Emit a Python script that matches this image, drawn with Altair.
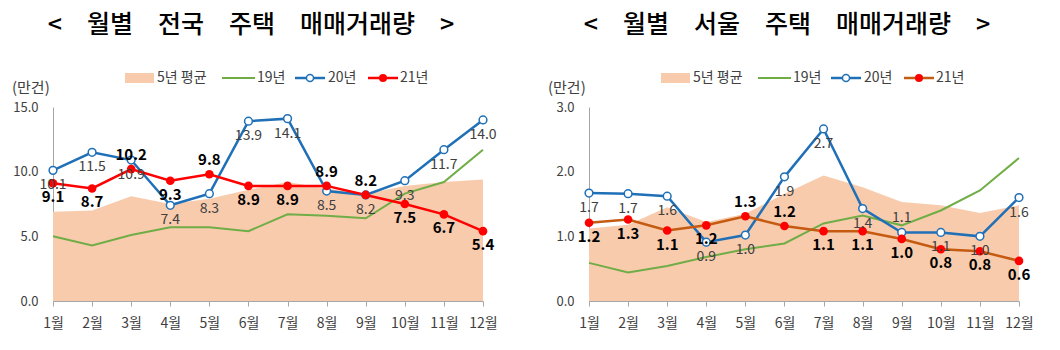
import altair as alt
import pandas as pd

FONT = "Noto Sans CJK KR"

months = ["1월", "2월", "3월", "4월", "5월", "6월", "7월", "8월", "9월", "10월", "11월", "12월"]
series_names = ["5년 평균", "19년", "20년", "21년"]
unit_label = "(만건)"
titles = ["<\u3000월별\u3000전국\u3000주택\u3000매매거래량\u3000>",
          "<\u3000월별\u3000서울\u3000주택\u3000매매거래량\u3000>"]

# 전국 (만건)
nat_avg5 = [6.9, 7.0, 8.1, 7.5, 7.9, 8.6, 9.2, 8.7, 8.3, 8.9, 9.2, 9.4]
nat_19 = [5.0, 4.3, 5.1, 5.7, 5.7, 5.4, 6.7, 6.6, 6.4, 8.3, 9.2, 11.7]
nat_20 = [10.1, 11.5, 10.9, 7.4, 8.3, 13.9, 14.1, 8.5, 8.2, 9.3, 11.7, 14.0]
nat_21 = [9.1, 8.7, 10.2, 9.3, 9.8, 8.9, 8.9, 8.9, 8.2, 7.5, 6.7, 5.4]
nat_20_side = ["below"] * 12
nat_21_side = ["below", "below", "above", "below", "above", "below",
               "below", "above", "above", "below", "below", "below"]
nat_ticks = [0, 5, 10, 15]

# 서울 (만건)
seoul_avg5 = [1.12, 1.18, 1.45, 1.22, 1.35, 1.66, 1.94, 1.76, 1.53, 1.48, 1.36, 1.48]
seoul_19 = [0.59, 0.44, 0.54, 0.68, 0.80, 0.89, 1.20, 1.32, 1.17, 1.40, 1.71, 2.21]
seoul_20 = [1.67, 1.66, 1.62, 0.91, 1.02, 1.92, 2.66, 1.43, 1.06, 1.06, 1.00, 1.60]
seoul_21 = [1.21, 1.26, 1.09, 1.17, 1.31, 1.16, 1.08, 1.08, 0.96, 0.80, 0.77, 0.62]
seoul_20_side = ["below", "below", "below", "below", "below", "below",
                 "below", "below", "above", "below", "below", "below"]
seoul_21_side = ["below", "below", "below", "below", "above", "above",
                 "below", "below", "below", "below", "below", "below"]
seoul_ticks = [0, 1, 2, 3]

AREA_C = "#F8CBAD"
GREEN = "#70AD47"
BLUE = "#2070B8"
RED = "#FF0000"
BROWN = "#C55A11"
AXIS_C = "#A6A6A6"
TXT = "#404040"

W, H = 430, 194


def one_row(**kw):
    return pd.DataFrame({k: [v] for k, v in kw.items()})


def panel(title, avg5, s19, s20, s21, side20, side21, ticks, line21, left_pad, right_fill):
    df = pd.DataFrame({"월": months, "avg5": avg5, "s19": s19, "s20": s20, "s21": s21,
                       "side20": side20, "side21": side21})
    base = alt.Chart(df)
    xaxis = alt.Axis(title=None, labelAngle=0, grid=False, domainColor=AXIS_C,
                     tickColor=AXIS_C, tickSize=5, labelFontSize=14,
                     labelFont=FONT, labelColor=TXT, labelPadding=10)
    xenc = alt.X("월:N", sort=months, scale=alt.Scale(type="point", padding=0), axis=xaxis)
    yscale = alt.Scale(domain=[ticks[0], ticks[-1]], nice=False)
    yaxis = alt.Axis(title=None, values=ticks, format=".1f", grid=False,
                     ticks=False, domainColor=AXIS_C, labelFontSize=13,
                     labelFont=FONT, labelColor=TXT, labelPadding=15)

    def yf(f):
        return alt.Y(f"{f}:Q", scale=yscale, axis=yaxis)

    area = base.mark_area(color=AREA_C, opacity=1).encode(x=xenc, y=yf("avg5"))
    l19 = base.mark_line(color=GREEN, strokeWidth=2).encode(x=xenc, y=yf("s19"))
    l20 = base.mark_line(color=BLUE, strokeWidth=2.5).encode(x=xenc, y=yf("s20"))
    l21 = base.mark_line(color=line21, strokeWidth=2.5).encode(x=xenc, y=yf("s21"))
    p20 = base.mark_point(shape="circle", filled=True, fill="white", stroke=BLUE,
                          strokeWidth=1.5, size=60, opacity=1).encode(x=xenc, y=yf("s20"))
    p21 = base.mark_circle(color=RED, size=75, opacity=1).encode(x=xenc, y=yf("s21"))

    def labels(field, side, dy, bold):
        return base.transform_filter(f"datum.{side[0]} == '{side[1]}'").mark_text(
            dy=dy, fontSize=15 if bold else 14, fontWeight="bold" if bold else "normal",
            color="#000000" if bold else TXT, font=FONT, baseline="middle"
        ).encode(x=xenc, y=yf(field), text=alt.Text(f"{field}:Q", format=".1f"))

    t20a = labels("s20", ("side20", "above"), -14, False)
    t20b = labels("s20", ("side20", "below"), 15, False)
    t21a = labels("s21", ("side21", "above"), -14, True)
    t21b = labels("s21", ("side21", "below"), 14, True)

    ly = -29
    leg = [
        alt.Chart(one_row(k=0)).mark_rect(color=AREA_C).encode(
            x=alt.value(72), x2=alt.value(101), y=alt.value(ly - 5), y2=alt.value(ly + 5)),
        alt.Chart(one_row(k=0)).mark_rule(color=GREEN, strokeWidth=2).encode(
            x=alt.value(169), x2=alt.value(202), y=alt.value(ly)),
        alt.Chart(one_row(k=0)).mark_rule(color=BLUE, strokeWidth=2.5).encode(
            x=alt.value(242), x2=alt.value(272), y=alt.value(ly)),
        alt.Chart(one_row(k=0)).mark_point(shape="circle", filled=True, fill="white",
                                           stroke=BLUE, strokeWidth=1.5, size=50, opacity=1).encode(
            x=alt.value(257), y=alt.value(ly)),
        alt.Chart(one_row(k=0)).mark_rule(color=line21, strokeWidth=2.5).encode(
            x=alt.value(315), x2=alt.value(345), y=alt.value(ly)),
        alt.Chart(one_row(k=0)).mark_circle(color=RED, size=65, opacity=1).encode(
            x=alt.value(330), y=alt.value(ly)),
    ]
    for name, xpos in zip(series_names, [104, 204, 275, 347]):
        leg.append(alt.Chart(one_row(name=name)).mark_text(
            align="left", baseline="middle", fontSize=14, font=FONT, color=TXT).encode(
            x=alt.value(xpos), y=alt.value(ly), text="name:N"))

    unit = alt.Chart(one_row(u=unit_label)).mark_text(
        align="left", baseline="middle", fontSize=15, font=FONT, color=TXT).encode(
        x=alt.value(-41), y=alt.value(-19), text="u:N")
    ttl = alt.Chart(one_row(t=title)).mark_text(
        align="center", baseline="middle", fontSize=25, fontWeight=500, font=FONT,
        color="#000000").encode(
        x=alt.value(198), y=alt.value(-82), text="t:N")

    frame = []
    if left_pad:
        frame.append(alt.Chart(one_row(k=0)).mark_rect(opacity=0).encode(
            x=alt.value(-53), x2=alt.value(0), y=alt.value(-107), y2=alt.value(0)))
    if right_fill:
        frame.append(alt.Chart(one_row(k=0)).mark_rect(opacity=0).encode(
            x=alt.value(W), x2=alt.value(471), y=alt.value(H), y2=alt.value(243)))

    return alt.layer(area, l19, l20, l21, p20, p21, t20a, t20b, t21a, t21b,
                     *leg, unit, ttl, *frame).properties(width=W, height=H)


left = panel(titles[0], nat_avg5, nat_19, nat_20, nat_21, nat_20_side, nat_21_side,
             nat_ticks, RED, True, False)
right = panel(titles[1], seoul_avg5, seoul_19, seoul_20, seoul_21, seoul_20_side,
              seoul_21_side, seoul_ticks, BROWN, False, True)

chart = alt.hconcat(left, right, spacing=106, bounds="flush").properties(
    padding=0, background="white"
).configure_view(strokeOpacity=0)

chart.save("out.html", embed_options={"renderer": "svg", "actions": False})
